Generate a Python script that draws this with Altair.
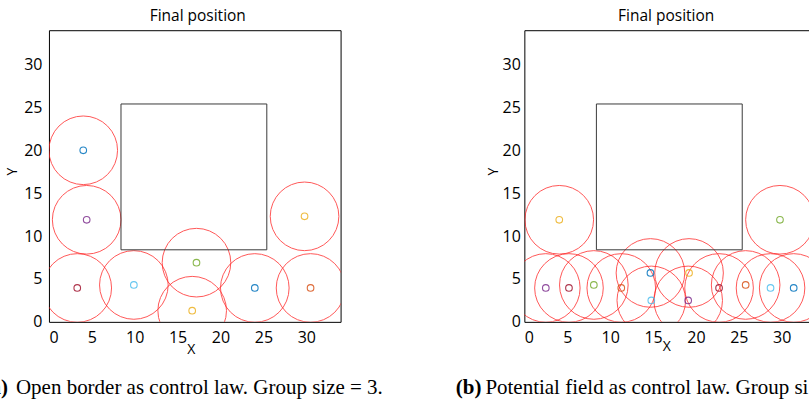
import altair as alt
import pandas as pd

# ---- data ----
AXIS_MAX = 34
TICKS = [0, 5, 10, 15, 20, 25, 30]
RADIUS = 4.0            # sensing radius of each agent, in data units
OBST = [8.4, 25.4]      # square obstacle, lower / upper corner

MATLAB = {"blue": "#0072BD", "orange": "#D95319", "yellow": "#EDB120",
          "purple": "#7E2F8E", "green": "#77AC30", "cyan": "#4DBEEE",
          "maroon": "#A2142F"}

a_x = [4.0, 4.4, 29.8, 17.2, 3.3, 9.9, 16.7, 24.0, 30.5]
a_y = [20.0, 11.9, 12.3, 6.9, 3.95, 4.3, 1.3, 3.95, 3.95]
a_c = ["blue", "purple", "yellow", "green", "maroon", "cyan", "yellow", "blue", "orange"]

b_x = [4.07, 29.8, 2.5, 5.2, 8.1, 11.3, 14.7, 14.8, 19.2, 19.1, 22.7, 25.8, 28.7, 31.4]
b_y = [11.9, 11.9, 3.95, 3.95, 4.3, 3.95, 5.7, 2.5, 5.7, 2.5, 3.95, 4.3, 3.95, 3.95]
b_c = ["yellow", "green", "purple", "maroon", "green", "orange", "blue", "cyan",
       "yellow", "purple", "maroon", "orange", "cyan", "blue"]

TITLE = "Final position"
CAP_A = ("(a)", "Open border as control law. Group size = 3.")
CAP_B = ("(b)", "Potential field as control law. Group size = 3.")

W = H = 292
PX_PER_UNIT = W / AXIS_MAX
D_PX = 2 * RADIUS * PX_PER_UNIT
CIRCLE_SIZE = D_PX * D_PX          # vega symbol size = (diameter)^2 for circles

SANS = "Open Sans"
SERIF = "Liberation Serif"
CAP_SIZE = 21
CAP_Y = 364
ANCHOR_X = -100


def text_layer(t, x, y, **kw):
    return alt.Chart(pd.DataFrame({"t": [t]})).mark_text(**kw).encode(
        x=alt.value(x), y=alt.value(y), text="t:N")


def panel(xs, ys, cs, cap, title_x, ytitle_x, ylabel_pad, xtitle_y,
          bold_right, text_left, limit=0, anchor=False):
    df = pd.DataFrame({"x": xs, "y": ys, "c": [MATLAB[c] for c in cs]})
    scale = alt.Scale(domain=[0, AXIS_MAX], nice=False, zero=False)
    xaxis = alt.Axis(values=TICKS, ticks=False, tickSize=0, domain=False, grid=False,
                     labelFont=SANS, labelFontSize=16, labelColor="black",
                     labelPadding=8, title="X", titleFont=SANS, titleFontSize=14,
                     titleFontWeight="normal", titleColor="black",
                     titleX=142, titleY=xtitle_y, titleBaseline="alphabetic",
                     titleAlign="center")
    yaxis = alt.Axis(values=TICKS, ticks=False, tickSize=0, domain=False, grid=False,
                     labelFont=SANS, labelFontSize=16, labelColor="black",
                     labelPadding=ylabel_pad, title="Y", titleFont=SANS,
                     titleFontSize=14, titleFontWeight="normal", titleColor="black",
                     titleX=ytitle_x, titleY=141, titleBaseline="middle",
                     titleAlign="center", titleAngle=270)

    enc = dict(x=alt.X("x:Q", scale=scale, axis=xaxis),
               y=alt.Y("y:Q", scale=scale, axis=yaxis))

    circles = alt.Chart(df).mark_point(
        shape="circle", filled=False, size=CIRCLE_SIZE, stroke="#ff2020",
        strokeWidth=1, opacity=0.75, clip=True).encode(**enc)

    agents = alt.Chart(df).mark_point(
        shape="circle", filled=False, size=44, strokeWidth=1.1, opacity=0.85
    ).encode(color=alt.Color("c:N", scale=None, legend=None), **enc)

    odf = pd.DataFrame({"x": [OBST[0]], "x2": [OBST[1]], "y": [OBST[0]], "y2": [OBST[1]]})
    obstacle = alt.Chart(odf).mark_rect(
        fillOpacity=0, stroke="#3a3a3a", strokeWidth=1
    ).encode(x2="x2:Q", y2="y2:Q", **enc)

    title = text_layer(TITLE, title_x, -9, font=SANS, fontSize=15.5, align="center",
                       baseline="alphabetic", color="black")
    bold = text_layer(cap[0], bold_right, CAP_Y, font=SERIF, fontSize=CAP_SIZE,
                      fontWeight="bold", align="right", baseline="alphabetic",
                      color="black")
    text_kw = dict(font=SERIF, fontSize=CAP_SIZE, align="left", baseline="alphabetic",
                   color="black")
    if limit:
        text_kw.update(limit=limit, ellipsis="\u200b")
    regular = text_layer(cap[1], text_left, CAP_Y, **text_kw)

    layers = [circles, obstacle, agents, title, bold, regular]
    if anchor:
        layers.append(
            alt.Chart(pd.DataFrame({"a": [0]})).mark_rule(
                strokeOpacity=0, strokeWidth=0).encode(
                x=alt.value(ANCHOR_X), y=alt.value(-29), y2=alt.value(370)))

    return alt.layer(*layers).properties(width=W, height=H)


left = panel(a_x, a_y, a_c, CAP_A, title_x=149, ytitle_x=-36, ylabel_pad=7,
             xtitle_y=32, bold_right=-41, text_left=-33, anchor=True)
right = panel(b_x, b_y, b_c, CAP_B, title_x=142, ytitle_x=-30.5, ylabel_pad=4,
              xtitle_y=29, bold_right=-43, text_left=-39, limit=326)

chart = alt.hconcat(left, right, spacing=184, bounds="flush").properties(
    padding={"left": 48 + ANCHOR_X, "right": -8, "top": 0, "bottom": 0}
).configure(background="white").configure_view(stroke="black", strokeWidth=1)

chart.save("out.html", embed_options={"renderer": "svg", "actions": False})
